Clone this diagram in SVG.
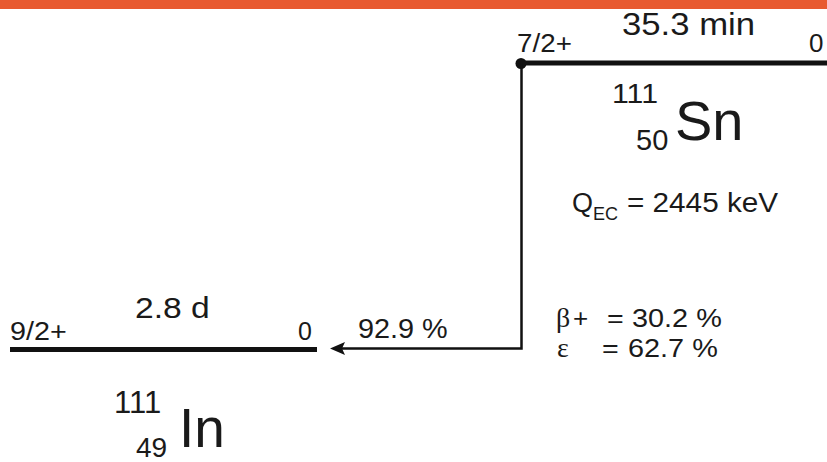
<svg xmlns="http://www.w3.org/2000/svg" width="827" height="462" viewBox="0 0 827 462">
<style>
text{font-family:"Liberation Sans",Arial,sans-serif;fill:#1a1a1a}
.sym{font-family:"Liberation Serif","Times New Roman",serif}
.lvl{stroke:#111;stroke-width:5;fill:none}
.tr{stroke:#111;stroke-width:2.5;fill:none}
</style>
<rect x="0" y="0" width="827" height="9" fill="#E85A30"/>
<g id="sn">
<line class="lvl" x1="521" y1="63" x2="827" y2="63"/>
<circle cx="521" cy="63.5" r="5.5" fill="#111"/>
<text font-size="31" transform="translate(622,35) scale(1.12,1)">35.3 min</text>
<text font-size="26" transform="translate(517,52) scale(1.07,1)">7/2+</text>
<text font-size="26" x="809" y="52">0</text>
<text font-size="28" transform="translate(612,103) scale(1.08,1)">111</text>
<text font-size="29" x="636" y="150">50</text>
<text font-size="56" x="675" y="140">Sn</text>
<text font-size="27" x="572" y="212">Q</text>
<text font-size="18" x="593" y="220">EC</text>
<text font-size="27" transform="translate(627,212) scale(1.1,1)">= 2445 keV</text>
<text font-size="28" class="sym" x="556" y="327">β</text>
<text font-size="26" x="573" y="327">+</text>
<text font-size="26" transform="translate(607,327) scale(1.1,1)">=</text>
<text font-size="26" transform="translate(632,327) scale(1.11,1)">30.2 %</text>
<text font-size="28" class="sym" x="557" y="357">ε</text>
<text font-size="26" transform="translate(602,357) scale(1.1,1)">=</text>
<text font-size="26" transform="translate(628,357) scale(1.11,1)">62.7 %</text>
</g>
<g id="in">
<line class="lvl" x1="10" y1="349.5" x2="317" y2="349.5"/>
<text font-size="29" transform="translate(135,318) scale(1.16,1)">2.8 d</text>
<text font-size="25" transform="translate(10,340) scale(1.15,1)">9/2+</text>
<text font-size="25" x="298" y="340">0</text>
<text font-size="31" x="114" y="413">111</text>
<text font-size="28" x="136" y="457">49</text>
<text font-size="55" x="179" y="447">In</text>
</g>
<g id="connectors">
<path class="tr" d="M521.5,63 V348.5 H340"/>
<path d="M330,348.5 L345,342 L342,348.5 L345,355 Z" fill="#111"/>
<text font-size="28" transform="translate(358,338) scale(1.03,1)">92.9 %</text>
</g>
</svg>
